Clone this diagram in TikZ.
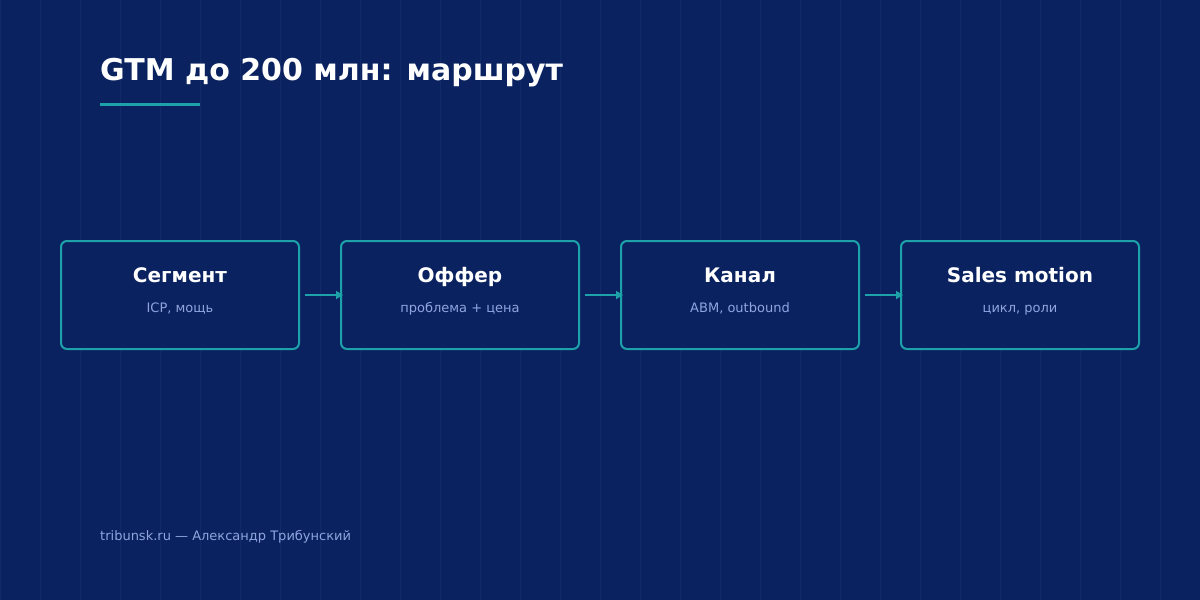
\documentclass[tikz,border=0pt]{standalone}
\usepackage{fontspec}
\setmainfont{DejaVu Sans}
\usetikzlibrary{arrows.meta}
\definecolor{bg}{HTML}{0B2260}
\definecolor{gridc}{HTML}{112A68}
\definecolor{teal}{HTML}{1DA2AA}
\definecolor{sub}{HTML}{8DA6DE}
\begin{document}
\begin{tikzpicture}[x=1pt,y=-1pt,
  stepbox/.style={draw=teal,line width=2pt,rounded corners=6pt,minimum width=238pt,minimum height=108pt,fill=bg},
  ttl/.style={text=white,font=\bfseries\fontsize{20}{24}\selectfont},
  subt/.style={text=sub,font=\fontsize{13}{16}\selectfont},
  arr/.style={draw=teal,line width=2pt,-{Triangle[length=7pt,width=8pt]}}]
\fill[bg] (0,0) rectangle (1200,600);
\useasboundingbox (0,0) rectangle (1200,600);
\draw[gridc,line width=0.6pt] (0,0) grid[step=40] (1200,600);
\node[anchor=base west,text=white,font=\bfseries\fontsize{30}{36}\selectfont,inner sep=0] (title) at (100,80) {GTM до 200 млн: маршрут};
\draw[teal,line width=3pt] (100,104) coordinate (u1) -- (200,104) coordinate (u2);
\foreach \i/\x/\t/\s in {1/180/Сегмент/{ICP, мощь},2/460/Оффер/{проблема + цена},3/740/Канал/{ABM, outbound},4/1020/Sales motion/{цикл, роли}}{
  \node[stepbox] (b\i) at (\x,295) {};
  \node[ttl,anchor=base] (t\i) at (\x,282) {\t};
  \node[subt,anchor=base] (s\i) at (\x,312) {\s};
}
\foreach \a/\b in {1/2,2/3,3/4}{
  \draw[arr] ([xshift=5pt]b\a.east) -- ([xshift=3pt]b\b.west);
}
\node[anchor=base west,subt,inner sep=0] (foot) at (100,540) {tribunsk.ru — Александр Трибунский};
\end{tikzpicture}
\end{document}
